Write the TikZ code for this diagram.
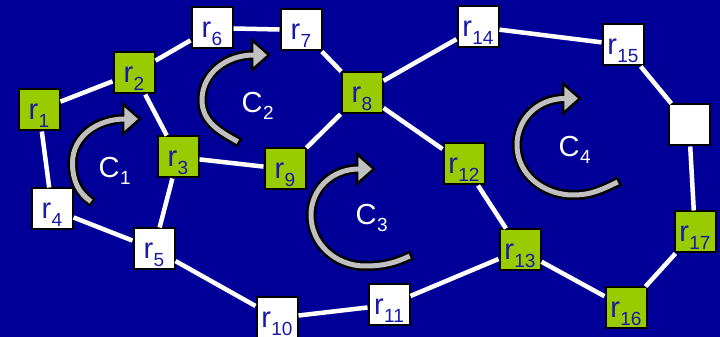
\documentclass[tikz,border=0pt]{standalone}
\usepackage{fontspec}
\setmainfont{Liberation Sans}
\definecolor{bgblue}{RGB}{0,0,153}
\definecolor{boxgreen}{RGB}{153,204,0}
\definecolor{txtblue}{RGB}{25,25,165}
\definecolor{arrgray}{RGB}{192,192,192}
\newcommand{\rlab}[1]{r\kern0.3pt\raisebox{-8pt}{\fontsize{19}{19}\selectfont #1}}
\newcommand{\clab}[1]{C\kern0.5pt\raisebox{-7pt}{\fontsize{19}{19}\selectfont #1}}
\begin{document}
\begin{tikzpicture}[x=1pt,y=1pt,
 router/.style={draw=black, line width=2pt, minimum width=41pt, minimum height=41pt, inner sep=0pt, text height=19pt, text depth=0pt, font=\fontsize{29}{29}\selectfont, text=txtblue},
 gnode/.style={router, fill=boxgreen},
 wnode/.style={router, fill=white},
 link/.style={white, line width=4.5pt},
 cyc/.style={text=white, font=\fontsize{29}{29}\selectfont, anchor=base west, inner sep=0pt},
 arrowout/.style={black, line width=10pt},
 arrowin/.style={arrgray, line width=5pt, shorten <=2.5pt, shorten >=-2pt},
 arrowhd/.style={fill=arrgray, draw=black, line width=2.5pt, line join=miter}
]
\useasboundingbox (0,0) rectangle (720,337);
\clip (0,0) rectangle (720,337);
\fill[bgblue] (0,0) rectangle (720,337);

% routers
\node[gnode] (r1) at (39,227) {\rlab{1}};
\node[gnode] (r2) at (134,264) {\rlab{2}};
\node[gnode] (r3) at (178,180) {\rlab{3}};
\node[wnode] (r4) at (52,128) {\rlab{4}};
\node[wnode] (r5) at (154,88) {\rlab{5}};
\node[wnode] (r6) at (212,309) {\rlab{6}};
\node[wnode] (r7) at (301,307) {\rlab{7}};
\node[gnode] (r8) at (362,244) {\rlab{8}};
\node[gnode] (r9) at (285,168) {\rlab{9}};
\node[wnode] (r10) at (277,19) {\rlab{10}};
\node[wnode] (r11) at (389,32) {\rlab{11}};
\node[gnode] (r12) at (464,173) {\rlab{12}};
\node[gnode] (r13) at (520,87) {\rlab{13}};
\node[wnode] (r14) at (478,310) {\rlab{14}};
\node[wnode] (r15) at (623,292) {\rlab{15}};
\node[wnode] (rb) at (689,212) {};
\node[gnode] (r16) at (626,29) {\rlab{16}};
\node[gnode] (r17) at (695,105) {\rlab{17}};

% links
\draw[link] (r1)--(r2) (r2)--(r6) (r6)--(r7) (r7)--(r8) (r8)--(r9) (r9)--(r3)
  (r3)--(r2) (r3)--(r5) (r1)--(r4) (r4)--(r5) (r5)--(r10) (r10)--(r11)
  (r11)--(r13) (r13)--(r12) (r12)--(r8) (r8)--(r14) (r14)--(r15) (r15)--(rb)
  (rb)--(r17) (r17)--(r16) (r16)--(r13);

% cycle arrows
% C1
\draw[arrowout] (93,134) to[out=145,in=270] (72.5,174) to[out=90,in=180] (123,218);
\filldraw[arrowhd] (123,233) -- (140,218) -- (123,203) -- cycle;
\draw[arrowin] (93,134) to[out=145,in=270] (72.5,174) to[out=90,in=180] (123,218);
% C2
\draw[arrowout] (240,194) to[out=150,in=270] (202,237) to[out=90,in=180] (252,282);
\filldraw[arrowhd] (252,297) -- (269,282) -- (252,267) -- cycle;
\draw[arrowin] (240,194) to[out=150,in=270] (202,237) to[out=90,in=180] (252,282);
% C3
\draw[arrowout] (412,82) to[out=205,in=0] (365,71) to[out=180,in=270] (311,122) to[out=90,in=180] (357,168);
\filldraw[arrowhd] (357,183) -- (374,168) -- (357,153) -- cycle;
\draw[arrowin] (412,82) to[out=205,in=0] (365,71) to[out=180,in=270] (311,122) to[out=90,in=180] (357,168);
% C4
\draw[arrowout] (620,156) to[out=205,in=0] (573,142) to[out=180,in=270] (517,192) to[out=90,in=180] (563,238.5);
\filldraw[arrowhd] (563,253.5) -- (580,238.5) -- (563,223.5) -- cycle;
\draw[arrowin] (620,156) to[out=205,in=0] (573,142) to[out=180,in=270] (517,192) to[out=90,in=180] (563,238.5);

% cycle labels
\node[cyc] (c1) at (98.5,159) {\clab{1}};
\node[cyc] (c2) at (241.5,224) {\clab{2}};
\node[cyc] (c3) at (355.5,112) {\clab{3}};
\node[cyc] (c4) at (558.5,180) {\clab{4}};
\end{tikzpicture}
\end{document}
